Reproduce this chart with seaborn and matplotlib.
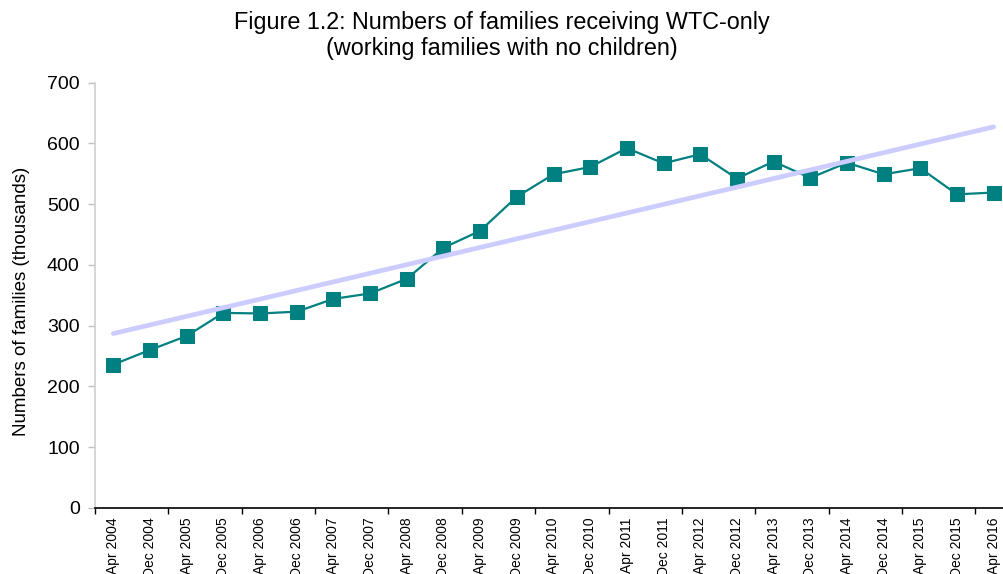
import matplotlib
matplotlib.use("Agg")
import matplotlib.pyplot as plt
import seaborn as sns
import pandas as pd
from matplotlib.ticker import FixedLocator

periods = ["Apr 2004", "Dec 2004", "Apr 2005", "Dec 2005", "Apr 2006", "Dec 2006",
           "Apr 2007", "Dec 2007", "Apr 2008", "Dec 2008", "Apr 2009", "Dec 2009",
           "Apr 2010", "Dec 2010", "Apr 2011", "Dec 2011", "Apr 2012", "Dec 2012",
           "Apr 2013", "Dec 2013", "Apr 2014", "Dec 2014", "Apr 2015", "Dec 2015",
           "Apr 2016"]
families = [236, 260, 283, 321, 320, 323, 344, 353, 377, 428, 456, 512,
            549, 561, 592, 567, 582, 542, 570, 543, 568, 549, 559, 516, 519]
trend_periods = ["Apr 2004", "Apr 2016"]
trend_values = [287, 627]

sns.set_style("white")
plt.rcParams["font.family"] = ["Liberation Sans", "DejaVu Sans"]
plt.rcParams["text.color"] = "black"
plt.rcParams["axes.labelcolor"] = "black"
plt.rcParams["xtick.color"] = "black"
plt.rcParams["ytick.color"] = "black"

idx = {p: i for i, p in enumerate(periods)}
df = pd.DataFrame({"x": [idx[p] for p in periods], "y": families})
tdf = pd.DataFrame({"x": [idx[p] for p in trend_periods], "y": trend_values})

fig = plt.figure(figsize=(10.04, 5.74), dpi=100)
ax = fig.add_axes([95 / 1004, 1 - 508 / 574, 917 / 1004, 425.5 / 574])

sns.lineplot(data=df, x="x", y="y", ax=ax, color="#008080", linewidth=1.6,
             marker="s", markersize=9.5, markeredgecolor="#008080",
             markerfacecolor="#008080", zorder=2)
sns.lineplot(data=tdf, x="x", y="y", ax=ax, color="#ccccff", linewidth=3.4,
             solid_capstyle="round", zorder=3)

ax.set_xlim(-0.5, 24.5)
ax.set_ylim(0, 700)
ax.set_yticks(range(0, 701, 100))
ax.set_xticks(range(len(periods)))
ax.set_xticklabels(periods, rotation=90, va="top", ha="center", fontsize=10)
ax.xaxis.set_minor_locator(FixedLocator([i - 0.5 for i in range(0, 25, 2)]))
ax.tick_params(axis="x", which="major", length=0, pad=7, labelcolor="black")
ax.tick_params(axis="x", which="minor", length=4.5, width=1, color="black", direction="out", bottom=True)
ax.tick_params(axis="y", which="major", length=5, width=1, color="#bfbfbf", direction="out",
               left=True, labelsize=14, pad=6, labelcolor="black")

for s in ["top", "right"]:
    ax.spines[s].set_visible(False)
ax.spines["left"].set_color("#d0d0d0")
ax.spines["left"].set_linewidth(1.2)
ax.spines["bottom"].set_color("black")
ax.spines["bottom"].set_linewidth(1.2)

ax.set_xlabel("")
ax.set_ylabel("Numbers of families (thousands)", fontsize=13.5, labelpad=10, color="black")
ax.yaxis.set_label_coords(-0.071, (508 - 301) / 425.5)
ax.grid(False)

fig.text(0.5, 1 - 22 / 574, "Figure 1.2: Numbers of families receiving WTC-only",
         ha="center", va="center", fontsize=16.8, color="black")
fig.text(0.5, 1 - 48 / 574, "(working families with no children)",
         ha="center", va="center", fontsize=16.8, color="black")

fig.savefig("out.png", dpi=100)
